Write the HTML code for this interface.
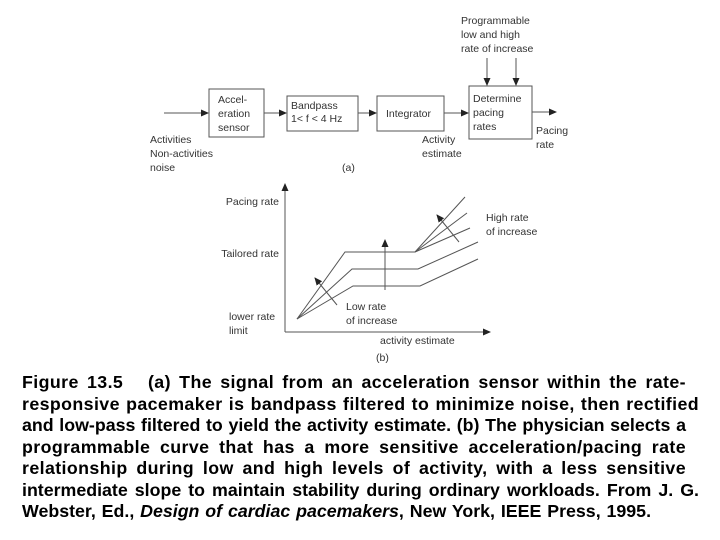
<!DOCTYPE html>
<html><head><meta charset="utf-8"><style>
body{margin:0;width:720px;height:540px;background:#fff;position:relative;overflow:hidden;font-family:"Liberation Sans",Arial,sans-serif}
.cap{position:absolute;left:22px;width:664px;font-weight:bold;font-size:17.8px;letter-spacing:0.4px;color:#000;white-space:nowrap;line-height:20px;text-align:justify;text-align-last:justify}
</style></head><body>
<svg width="720" height="370" style="position:absolute;left:0;top:0" font-family="Liberation Sans, Arial, sans-serif" font-size="10.5" fill="#333">
<defs><marker id="a" markerWidth="8" markerHeight="8" refX="7" refY="4" orient="auto" markerUnits="userSpaceOnUse"><path d="M0,0.5 L8,4 L0,7.5z" fill="#222"/></marker></defs>
<g stroke="#555" stroke-width="1" fill="none">
<rect x="209" y="89" width="55" height="48"/>
<rect x="287" y="96" width="71" height="35"/>
<rect x="377" y="96" width="67" height="35"/>
<rect x="469" y="86" width="63" height="53"/>
<line x1="164" y1="113" x2="208" y2="113" marker-end="url(#a)"/>
<line x1="264" y1="113" x2="286" y2="113" marker-end="url(#a)"/>
<line x1="358" y1="113" x2="376" y2="113" marker-end="url(#a)"/>
<line x1="444" y1="113" x2="468" y2="113" marker-end="url(#a)"/>
<line x1="532" y1="112" x2="556" y2="112" marker-end="url(#a)"/>
<line x1="487" y1="58" x2="487" y2="85" marker-end="url(#a)"/>
<line x1="516" y1="58" x2="516" y2="85" marker-end="url(#a)"/>
<line x1="285" y1="332" x2="285" y2="184" marker-end="url(#a)"/>
<line x1="285" y1="332" x2="490" y2="332" marker-end="url(#a)"/>
<polyline points="297,319 345,252 415,252 465,197"/>
<polyline points="297,319 352,269 418,269 478,242"/>
<polyline points="297,319 353,286 420,286 478,259"/>
<line x1="415" y1="252" x2="467" y2="213"/>
<line x1="415" y1="252" x2="470" y2="228"/>
<line x1="385" y1="290" x2="385" y2="240" marker-end="url(#a)"/>
<line x1="337" y1="305" x2="315" y2="278" marker-end="url(#a)"/>
<line x1="459" y1="242" x2="437" y2="215" marker-end="url(#a)"/>
</g>
<text x="461" y="24">Programmable</text>
<text x="461" y="38">low and high</text>
<text x="461" y="52">rate of increase</text>
<text x="218" y="103">Accel-</text>
<text x="218" y="117">eration</text>
<text x="218" y="131">sensor</text>
<text x="291" y="109">Bandpass</text>
<text x="291" y="122">1&lt; f &lt; 4 Hz</text>
<text x="386" y="117">Integrator</text>
<text x="473" y="102">Determine</text>
<text x="473" y="116">pacing</text>
<text x="473" y="130">rates</text>
<text x="536" y="134">Pacing</text>
<text x="536" y="148">rate</text>
<text x="422" y="143">Activity</text>
<text x="422" y="157">estimate</text>
<text x="150" y="143">Activities</text>
<text x="150" y="157">Non-activities</text>
<text x="150" y="171">noise</text>
<text x="342" y="171">(a)</text>
<text x="279" y="205" text-anchor="end">Pacing rate</text>
<text x="279" y="257" text-anchor="end">Tailored rate</text>
<text x="229" y="320">lower rate</text>
<text x="229" y="334">limit</text>
<text x="486" y="221">High rate</text>
<text x="486" y="235">of increase</text>
<text x="346" y="310">Low rate</text>
<text x="346" y="324">of increase</text>
<text x="380" y="344">activity estimate</text>
<text x="376" y="361">(b)</text>
</svg>
<div class="cap" style="top:372px">Figure 13.5 &nbsp;&nbsp;(a) The signal from an acceleration sensor within the rate-</div>
<div class="cap" style="top:394px;width:677px">responsive pacemaker is bandpass filtered to minimize noise, then rectified</div>
<div class="cap" style="top:415px;letter-spacing:0">and low-pass filtered to yield the activity estimate. (b) The physician selects a</div>
<div class="cap" style="top:437px">programmable curve that has a more sensitive acceleration/pacing rate</div>
<div class="cap" style="top:458px">relationship during low and high levels of activity, with a less sensitive</div>
<div class="cap" style="top:480px;width:677px;letter-spacing:0">intermediate slope to maintain stability during ordinary workloads. From J. G.</div>
<div class="cap" style="top:501px;width:629px;letter-spacing:0">Webster, Ed., <i>Design of cardiac pacemakers</i>, New York, IEEE Press, 1995.</div>
</body></html>
